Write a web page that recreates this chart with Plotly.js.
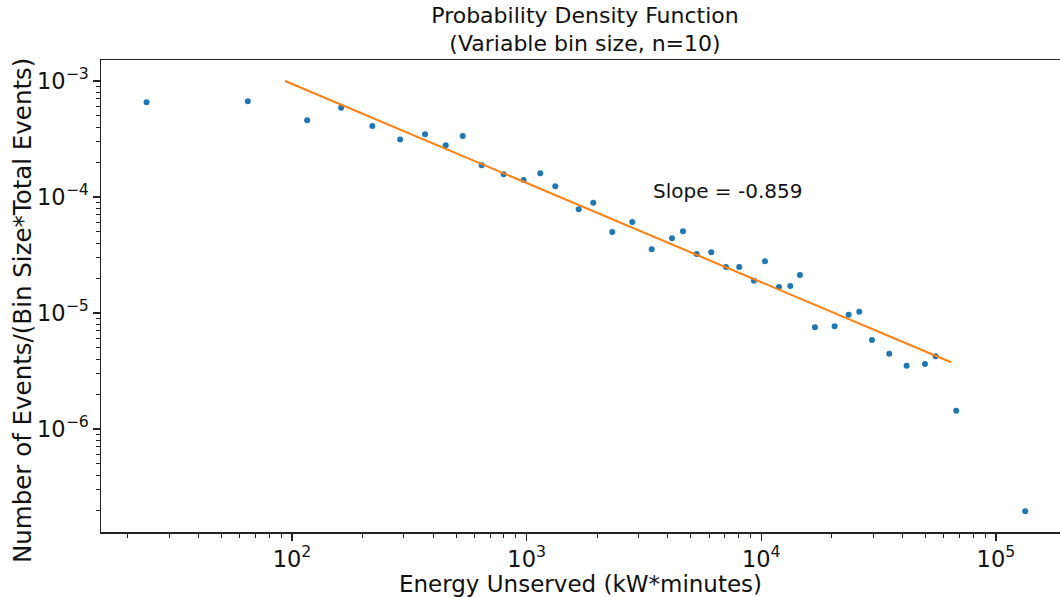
<!DOCTYPE html>
<html>
<head>
<meta charset="utf-8">
<script src="https://cdn.plot.ly/plotly-3.0.1.min.js"></script>
<style>html,body{margin:0;padding:0;background:#fff;}#chart{width:1060px;height:597px;}</style>
</head>
<body>
<div id="chart"></div>
<script>
// Observed PDF points (energy unserved, density)
const energy = [24.0, 64.8, 116, 162, 220, 289, 369, 452, 534, 643, 798, 971, 1143, 1324, 1666, 1923, 2317, 2819, 3411, 4164, 4637, 5303, 6121, 7070, 8055, 9304, 10366, 11894, 13286, 14612, 16931, 20540, 23565, 26155, 29620, 35102, 41630, 49818, 55335, 67735, 133300];
const density = [6.55e-4, 6.68e-4, 4.58e-4, 5.89e-4, 4.09e-4, 3.13e-4, 3.47e-4, 2.79e-4, 3.36e-4, 1.88e-4, 1.57e-4, 1.40e-4, 1.60e-4, 1.24e-4, 7.83e-5, 8.93e-5, 4.99e-5, 6.09e-5, 3.54e-5, 4.41e-5, 5.07e-5, 3.23e-5, 3.34e-5, 2.49e-5, 2.49e-5, 1.90e-5, 2.79e-5, 1.675e-5, 1.71e-5, 2.13e-5, 7.53e-6, 7.68e-6, 9.67e-6, 1.026e-5, 5.85e-6, 4.46e-6, 3.51e-6, 3.63e-6, 4.23e-6, 1.438e-6, 1.953e-7];
// Power-law fit line end points
const fitX = [93.4, 64300];
const fitY = [1.0e-3, 3.76e-6];
const slopeLabel = "Slope = -0.859";
const titleText = "Probability Density Function<br>(Variable bin size, n=10)";
const xTitle = "Energy Unserved (kW*minutes)";
const yTitle = "Number of Events/(Bin Size*Total Events)";

const dv = "'DejaVu Sans', sans-serif";

const traces = [
  {x: energy, y: density, mode: 'markers', type: 'scatter',
   marker: {color: '#1f77b4', size: 6}, showlegend: false, hoverinfo: 'x+y'},
  {x: fitX, y: fitY, mode: 'lines', type: 'scatter',
   line: {color: '#ff7f0e', width: 2}, showlegend: false}
];

const axisCommon = {
  type: 'log', showgrid: false, zeroline: false,
  showline: true, linecolor: '#222', linewidth: 1.5,
  ticks: 'outside', ticklen: 7, tickwidth: 1.2, tickcolor: '#222',
  exponentformat: 'power', dtick: 1,
  tickfont: {family: dv, size: 18, color: '#111'},
  minor: {ticks: 'outside', ticklen: 4, tickwidth: 1, tickcolor: '#222', dtick: 'D1', showgrid: false}
};

const layout = {
  width: 1060, height: 597,
  margin: {l: 101, r: 0, t: 60, b: 65},
  paper_bgcolor: '#fff', plot_bgcolor: '#fff',
  title: {text: titleText, font: {family: dv, size: 22, color: '#111'},
          x: 585/1060, xref: 'container', xanchor: 'center', y: 0.962, yanchor: 'top', yref: 'container'},
  xaxis: Object.assign({}, axisCommon, {
    range: [1.186, 5.273], mirror: true,
    title: {text: xTitle, font: {family: dv, size: 23, color: '#111'}, standoff: 2}
  }),
  yaxis: Object.assign({}, axisCommon, {
    range: [-6.888, -2.819], mirror: false
  }),
  annotations: [{
    text: slopeLabel, xref: 'paper', yref: 'paper', x: 0.5735, y: 0.7225,
    xanchor: 'left', yanchor: 'middle', showarrow: false,
    font: {family: dv, size: 20, color: '#111'}
  }, {
    text: yTitle, xref: 'paper', yref: 'paper', x: (22 - 101) / 959, y: (532 - 311) / 472,
    xanchor: 'center', yanchor: 'middle', showarrow: false, textangle: -90,
    font: {family: dv, size: 24.5, color: '#111'}
  }]
};

Plotly.newPlot('chart', traces, layout, {displayModeBar: false, staticPlot: true});
</script>
</body>
</html>
